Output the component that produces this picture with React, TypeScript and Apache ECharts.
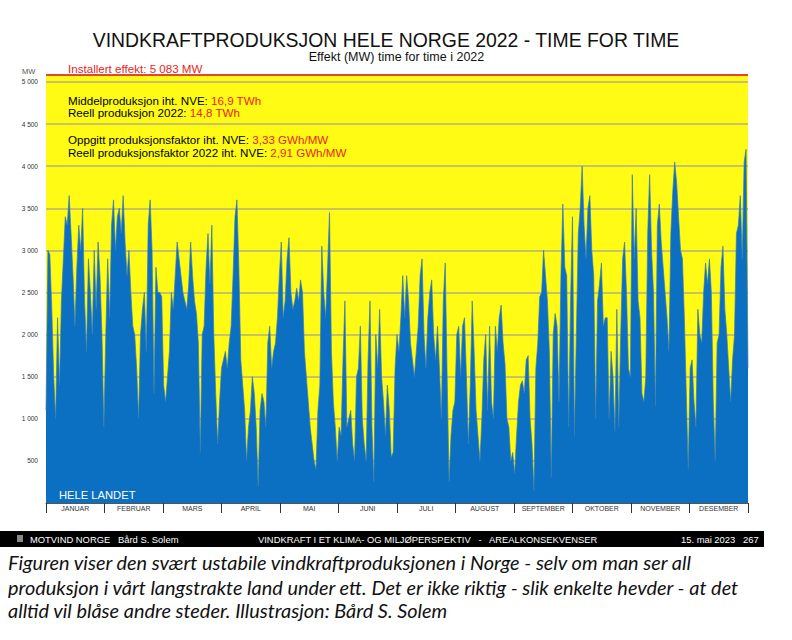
import React, { useEffect, useRef } from "react";
import * as echarts from "echarts";

const months = ["JANUAR", "FEBRUAR", "MARS", "APRIL", "MAI", "JUNI", "JULI", "AUGUST", "SEPTEMBER", "OKTOBER", "NOVEMBER", "DESEMBER"];

// Approximate daily production level (MW)
const jan = [1100, 3000, 2950, 2300, 1500, 1000, 2200, 1400, 2400, 2900, 3400, 3300, 3650, 3200, 2700, 2100, 2800, 3300, 3000, 3500, 2400, 1800, 2900, 2500, 2000, 3000, 2300, 3100, 2700, 2000, 900];
const feb = [2000, 2900, 2200, 3300, 3600, 3000, 3400, 3500, 3200, 3650, 3100, 2700, 3000, 2500, 2100, 2000, 1600, 1000, 2000, 2300, 2500, 1800, 3300, 3600, 3000, 1300, 2800, 2500];
const mar = [2500, 2450, 1400, 1200, 1500, 1800, 2500, 2300, 2700, 3100, 2900, 2700, 2500, 2400, 2300, 2600, 3100, 2700, 2400, 2250, 1900, 600, 2000, 2100, 2800, 3200, 2600, 3300, 2000, 1300, 700];
const apr = [1200, 1600, 1700, 1800, 1600, 1900, 2100, 2700, 3400, 3600, 2800, 1700, 1400, 1100, 500, 900, 1100, 1500, 1300, 900, 200, 1100, 1300, 1200, 900, 1900, 2100, 1600, 1800, 1900];
const mai = [2200, 2700, 3100, 2200, 2400, 2900, 3150, 2500, 2300, 2400, 2550, 2400, 2650, 2500, 1800, 1500, 1200, 900, 700, 500, 400, 1100, 1400, 3050, 2500, 2200, 2800, 3450, 1800, 1200, 900];
const jun = [500, 900, 800, 1700, 2400, 900, 1000, 1100, 700, 500, 1500, 1600, 2100, 1000, 700, 500, 1700, 2400, 900, 250, 2000, 1600, 2300, 1500, 1200, 800, 1400, 1100, 550, 600];
const jul = [1600, 2000, 1800, 2200, 2700, 2200, 2700, 2400, 1900, 1700, 1500, 1800, 2100, 2700, 2900, 2000, 1600, 2200, 2500, 2650, 2000, 1700, 2100, 1600, 1000, 2400, 2850, 1500, 250, 800, 1100];
const aug = [1200, 2000, 2100, 1500, 2100, 2200, 1500, 700, 1400, 2400, 1800, 1100, 800, 500, 1000, 1700, 2000, 1100, 2100, 1200, 1000, 2100, 1800, 2200, 2350, 1900, 1650, 1000, 900, 500, 600];
const sep = [350, 800, 1200, 1400, 1450, 1300, 1700, 1750, 1000, 700, 150, 1600, 1900, 2450, 2500, 3000, 2700, 2400, 1800, 300, 2000, 2250, 2100, 1200, 2700, 3550, 2800, 2700, 900, 2400];
const okt = [3400, 800, 2000, 3200, 3500, 4000, 3300, 2900, 3500, 3650, 3000, 2700, 1000, 2400, 2600, 2850, 2100, 2200, 2200, 1000, 1800, 1500, 850, 2300, 900, 2000, 2900, 3100, 2500, 1600, 1500];
const nov = [3900, 2900, 3500, 2400, 2200, 1300, 1200, 1500, 3200, 3900, 3000, 2500, 1150, 3300, 3550, 3100, 2800, 2500, 2200, 1800, 3200, 3700, 4050, 3800, 3400, 3000, 2900, 2200, 1300, 400];
const des = [1600, 1700, 1200, 900, 2300, 2000, 1900, 2500, 2850, 2600, 2900, 2500, 1200, 500, 1900, 2000, 2800, 3050, 2300, 2000, 1600, 1200, 1700, 2000, 3200, 3300, 3650, 2900, 4050, 4200, 1600];

const installedMW = 5083;
const yTickStep = 500;

const fmtThousands = (v: number) => {
  const s = String(v);
  return s.length > 3 ? s.slice(0, s.length - 3) + " " + s.slice(s.length - 3) : s;
};

export default function App() {
  const ref = useRef<HTMLDivElement>(null);
  useEffect(() => {
    if (!ref.current) return;
    const chart = echarts.init(ref.current, null, { renderer: "svg" });
    const all = [...jan, ...feb, ...mar, ...apr, ...mai, ...jun, ...jul, ...aug, ...sep, ...okt, ...nov, ...des];
    const points = all.map((v, i) => [i, v]);
    const FONT = "'Liberation Sans', Arial, Helvetica, sans-serif";
    const CAP = "Lato, 'Open Sans', sans-serif";
    const red = "#ee1c1c";
    const richInfo = (a: string, b: string, y: number) => ({
      type: "text", x: 68, y,
      style: {
        text: `{a|${a}}{b|${b}}`, fontSize: 11.6, fontFamily: FONT, align: "left", verticalAlign: "middle",
        rich: { a: { fill: "#000", fontSize: 11.6, fontFamily: FONT }, b: { fill: red, fontSize: 11.6, fontFamily: FONT } },
      },
    });
    const footer = (text: string, x: number) => ({
      type: "text", x, y: 539.5,
      style: { text, fontSize: 9.4, fill: "#fff", fontFamily: FONT, align: "left", verticalAlign: "middle" },
    });
    const caption = (text: string, y: number) => ({
      type: "text", x: 8, y,
      style: { text, fontSize: 19.9, fontStyle: "italic", fill: "#111", fontFamily: CAP, align: "left", verticalAlign: "middle" },
    });
    const option: any = {
      animation: false,
      backgroundColor: "#ffffff",
      textStyle: { fontFamily: FONT },
      grid: { left: 46, right: 44, top: 75, bottom: 137, show: true, backgroundColor: "#fffb14", borderWidth: 0 },
      xAxis: [
        {
          type: "category",
          data: months,
          boundaryGap: true,
          axisLine: { onZero: false, lineStyle: { color: "#555", width: 1 } },
          axisTick: { show: true, length: 10, lineStyle: { color: "#333", width: 1 } },
          axisLabel: { fontSize: 7, color: "#333", margin: 1.5, interval: 0, fontFamily: FONT },
          splitLine: { show: false },
        },
        { type: "value", min: 0, max: all.length - 1, show: false, splitLine: { show: false } },
      ],
      yAxis: {
        type: "value",
        min: 0,
        max: installedMW,
        interval: yTickStep,
        axisLine: { show: false },
        axisTick: { show: false },
        axisLabel: {
          fontSize: 6.5,
          color: "#333",
          margin: 8,
          fontFamily: FONT,
          formatter: (v: number) => (v === 0 || v % yTickStep !== 0 ? "" : fmtThousands(v)),
        },
        splitLine: { lineStyle: { color: "#b2b07c", width: 1.5 } },
      },
      series: [
        {
          type: "line",
          xAxisIndex: 1,
          data: points,
          symbol: "none",
          lineStyle: { color: "#3a7cb2", width: 0.7 },
          areaStyle: { color: "#0b6fc2", opacity: 1 },
          markLine: {
            symbol: "none",
            silent: true,
            label: { show: false },
            lineStyle: { color: red, width: 1.5, type: "solid" },
            data: [{ yAxis: installedMW }],
          },
        },
      ],
      graphic: [
        { type: "text", x: 386, y: 40, style: { text: "VINDKRAFTPRODUKSJON HELE NORGE 2022 - TIME FOR TIME", fontSize: 19.4, fill: "#111", fontFamily: FONT, align: "center", verticalAlign: "middle" } },
        { type: "text", x: 396.5, y: 57, style: { text: "Effekt (MW) time for time i 2022", fontSize: 12.5, fill: "#111", fontFamily: FONT, align: "center", verticalAlign: "middle" } },
        { type: "text", x: 22, y: 71, style: { text: "MW", fontSize: 7.5, fill: "#555", fontFamily: FONT, align: "left", verticalAlign: "middle" } },
        { type: "text", x: 68, y: 68, style: { text: "Installert effekt: 5 083 MW", fontSize: 11.6, fill: red, fontFamily: FONT, align: "left", verticalAlign: "middle" } },
        richInfo("Middelproduksjon iht. NVE: ", "16,9 TWh", 100),
        richInfo("Reell produksjon 2022: ", "14,8 TWh", 112.5),
        richInfo("Oppgitt produksjonsfaktor iht. NVE: ", "3,33 GWh/MW", 139.5),
        richInfo("Reell produksjonsfaktor 2022 iht. NVE: ", "2,91 GWh/MW", 152.5),
        { type: "text", x: 59, y: 495, z: 10, style: { text: "HELE LANDET", fontSize: 11.2, fill: "#ffffff", fontFamily: FONT, align: "left", verticalAlign: "middle" } },
        { type: "rect", shape: { x: 0, y: 531, width: 764, height: 16 }, style: { fill: "#000000" } },
        { type: "rect", shape: { x: 17, y: 535, width: 6, height: 7 }, style: { fill: "#888888" } },
        footer("MOTVIND NORGE", 30),
        footer("Bård S. Solem", 118),
        footer("VINDKRAFT I ET KLIMA- OG MILJØPERSPEKTIV   -   AREALKONSEKVENSER", 258),
        footer("15. mai 2023", 681),
        footer("267", 743),
        caption("Figuren viser den svært ustabile vindkraftproduksjonen i Norge - selv om man ser all", 562),
        caption("produksjon i vårt langstrakte land under ett. Det er ikke riktig - slik enkelte hevder - at det", 587),
        caption("alltid vil blåse andre steder. Illustrasjon: Bård S. Solem", 610),
      ],
    };
    chart.setOption(option);
    return () => chart.dispose();
  }, []);
  return <div ref={ref} style={{ position: "fixed", left: 0, top: 0, width: 792, height: 640 }} />;
}
